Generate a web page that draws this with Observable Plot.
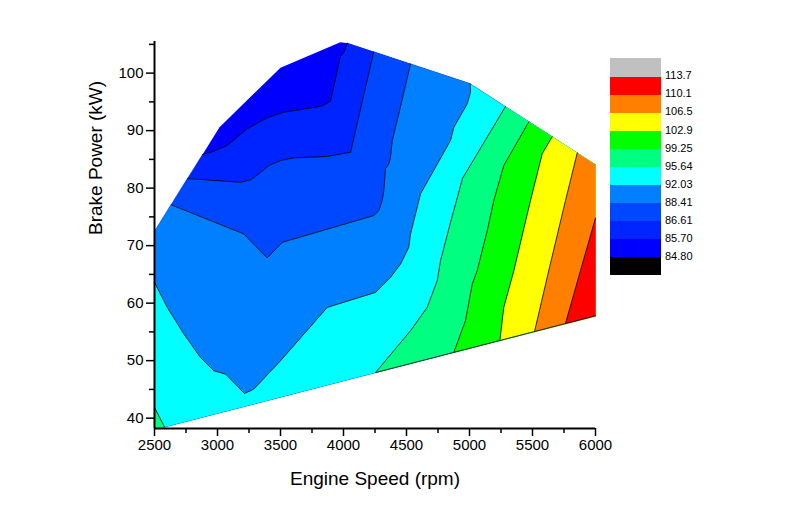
<!DOCTYPE html>
<html><head><meta charset="utf-8">
<script src="https://cdn.jsdelivr.net/npm/d3@7"></script>
<script src="https://cdn.jsdelivr.net/npm/@observablehq/plot@0.6"></script>
<style>
body{margin:0;background:#fff;font-family:"Liberation Sans",Arial,sans-serif;}
#wrap{position:relative;width:794px;height:520px;overflow:hidden;}
#chart{position:absolute;left:0;top:0;}
#legend{position:absolute;left:610px;top:0;}
.sw{position:absolute;left:0;width:51px;}
.lb{position:absolute;left:55px;font-size:11px;line-height:12px;color:#000;white-space:nowrap;}
</style></head><body>
<div id="wrap"><div id="chart"></div><div id="legend"></div></div>
<script>
// ---- tick values
const xTicks = [2500, 3000, 3500, 4000, 4500, 5000, 5500, 6000];
const xMinorTicks = [2750, 3250, 3750, 4250, 4750, 5250, 5750];
const yTicks = [40, 50, 60, 70, 80, 90, 100];
const yMinorTicks = [45, 55, 65, 75, 85, 95, 105];

// ---- contour levels (legend)
const levels = [84.80, 85.70, 86.61, 88.41, 92.03, 95.64, 99.25, 102.9, 106.5, 110.1, 113.7];
const levelLabels = ["84.80", "85.70", "86.61", "88.41", "92.03", "95.64", "99.25", "102.9", "106.5", "110.1", "113.7"];

// ---- data envelope (rpm, kW), clockwise
const envelope = [[2500,38.2],[2500,72.4],[3016,90.6],[3500,100.95],[3975,105.35],[4035,105.2],[5000,98.2],[6000,84.05],[6000,57.8],[2587,38.5]];

// ---- contour lines (rpm, kW), higher values on the right-hand side
const c8570 = [[2885,85.8],[2952,86.25],[3077,87.41],[3236,90.32],[3395,92.24],[3526,93.21],[3818,94.2],[3897,95.13],[3976,102.91],[4008,103.78],[4030,105.2]];
const c8661 = [[2767,81.6],[3183,81.02],[3262,81.44],[3341,82.71],[3407,83.93],[3500,84.8],[3606,85.27],[3871,85.5],[4056,86.25],[4241,103.75]];
const c8841 = [[2640,77.0],[3209,72.04],[3394,67.86],[3514,70.58],[4241,75.23],[4280,76.1],[4307,77.84],[4320,79.58],[4333,83.36],[4360,84.23],[4373,85.38],[4387,88.28],[4439,92.93],[4532,101.6]];
const c9203 = [[2500,63.61],[2601,59.26],[2733,54.63],[2865,50.55],[2971,48.24],[3064,47.66],[3214,44.28],[3288,45.05],[3500,49.98],[3871,59.26],[4254,61.87],[4373,64.48],[4453,66.81],[4518,69.71],[4532,72.04],[4598,77.84],[4611,79.0],[4849,88.28],[4876,90.6],[4982,94.67],[5008,96.64],[5005,98.1]];
const c9564corner = [[2500,41.85],[2580,38.45]];
const c9564 = [[4254,47.95],[4532,55.2],[4664,59.26],[4744,63.91],[4770,67.39],[4849,74.01],[4897,77.84],[4944,81.67],[5285,94.17]];
const c9925 = [[4876,51.45],[4968,56.94],[5022,63.33],[5061,65.65],[5141,72.61],[5193,77.84],[5272,83.93],[5471,91.53]];
const c10290 = [[5241,53.52],[5272,59.26],[5352,65.65],[5484,77.84],[5577,85.97],[5656,88.92]];
const c10650 = [[5516,55.1],[5629,65.65],[5762,77.84],[5855,86.1]];
const c11010 = [[5762,56.45],[5881,65.65],[6000,74.79]];

// ---- styles
const bandColors = ["#000000","#0000ff","#0024ff","#0048ff","#0080ff","#00ffff","#00ff80","#00ff00","#ffff00","#ff8000","#ff0000","#c0c0c0"];

const contours = [
  {level: 1, pts: c8570}, {level: 2, pts: c8661}, {level: 3, pts: c8841},
  {level: 4, pts: c9203}, {level: 5, pts: c9564}, {level: 5, pts: c9564corner},
  {level: 6, pts: c9925}, {level: 7, pts: c10290}, {level: 8, pts: c10650}, {level: 9, pts: c11010}
];

// geometry helpers (normalised to roughly pixel-like units)
const KX = 0.126, KY = 5.743;
const n = envelope.length;
function nearestSeg(p) {
  let best = -1, bd = Infinity, bp = null;
  for (let i = 0; i < n; i++) {
    const a = envelope[i], b = envelope[(i + 1) % n];
    const ax = a[0]*KX, ay = a[1]*KY, bx = b[0]*KX, by = b[1]*KY, px = p[0]*KX, py = p[1]*KY;
    const dx = bx - ax, dy = by - ay;
    let t = ((px - ax)*dx + (py - ay)*dy) / (dx*dx + dy*dy);
    t = Math.max(0, Math.min(1, t));
    const qx = ax + t*dx, qy = ay + t*dy;
    const d = Math.hypot(px - qx, py - qy);
    if (d < bd) { bd = d; best = i; bp = [qx/KX, qy/KY]; }
  }
  return {i: best, p: bp};
}
function superlevel(line) {
  const s = nearestSeg(line[0]), e = nearestSeg(line[line.length - 1]);
  const pts = [s.p, ...line.slice(1, -1), e.p];
  let i = e.i;
  do { i = (i + 1) % n; pts.push(envelope[i]); } while (i !== s.i);
  return pts;
}
function snapped(line) {
  const s = nearestSeg(line[0]), e = nearestSeg(line[line.length - 1]);
  return [s.p, ...line.slice(1, -1), e.p];
}

const X = d => d[0], Y = d => d[1];
const fillMarks = [Plot.line(envelope, {x: X, y: Y, fill: bandColors[1], stroke: "none", curve: "linear-closed"})];
for (const c of contours.slice().sort((a, b) => a.level - b.level)) {
  fillMarks.push(Plot.line(superlevel(c.pts), {x: X, y: Y, fill: bandColors[c.level + 1], stroke: bandColors[c.level + 1], strokeWidth: 0.3, curve: "linear-closed"}));
}
const lineMarks = contours.map(c => Plot.line(snapped(c.pts), {x: X, y: Y, stroke: "#000", strokeWidth: 0.8}));
// dark edge along the lower boundary on the right
const bottomEdge = [c9564[0], envelope[8]];
lineMarks.push(Plot.line(snapped(bottomEdge), {x: X, y: Y, stroke: "#000", strokeWidth: 0.8}));

const chart = Plot.plot({
  width: 794, height: 520,
  marginLeft: 154, marginRight: 199, marginTop: 41, marginBottom: 92,
  style: {fontFamily: "'Liberation Sans', Arial, sans-serif", color: "#000", background: "#fff", overflow: "visible"},
  x: {domain: [2500, 6000]},
  y: {domain: [38.2, 105.5]},
  marks: [
    ...fillMarks,
    ...lineMarks,
    Plot.axisX({ticks: xTicks, tickSize: 8, tickPadding: 3, tickFormat: d => String(d), fontSize: 15, strokeWidth: 1.5, label: null}),
    Plot.axisX({ticks: xMinorTicks, tickSize: 5, strokeWidth: 1.5, text: null, label: null}),
    Plot.axisY({ticks: yTicks, tickSize: 8, tickPadding: 3, tickFormat: d => String(d), fontSize: 15, strokeWidth: 1.5, label: null}),
    Plot.axisY({ticks: yMinorTicks, tickSize: 5, strokeWidth: 1.5, text: null, label: null}),
    Plot.ruleX([2500], {stroke: "#000", strokeWidth: 2}),
    Plot.ruleY([38.2], {stroke: "#000", strokeWidth: 2}),
    Plot.text(["Engine Speed (rpm)"], {text: d => d, frameAnchor: "bottom", dy: 56, lineAnchor: "bottom", fontSize: 19}),
    Plot.text(["Brake Power (kW)"], {text: d => d, frameAnchor: "left", dx: -59, rotate: -90, lineAnchor: "middle", fontSize: 19})
  ]
});
document.getElementById("chart").appendChild(chart);

// ---- legend
const legend = document.getElementById("legend");
const top0 = 58.3, step = 18.06;
bandColors.forEach((col, i) => {
  const d = document.createElement("div");
  d.className = "sw";
  d.style.top = (top0 + (11 - i) * step) + "px";
  d.style.height = (step + 0.3) + "px";
  d.style.background = col;
  legend.appendChild(d);
});
levels.forEach((v, k) => {
  const t = document.createElement("div");
  t.className = "lb";
  t.style.top = (top0 + (11 - k) * step - 7) + "px";
  t.textContent = levelLabels[k];
  legend.appendChild(t);
});
</script>
</body></html>
